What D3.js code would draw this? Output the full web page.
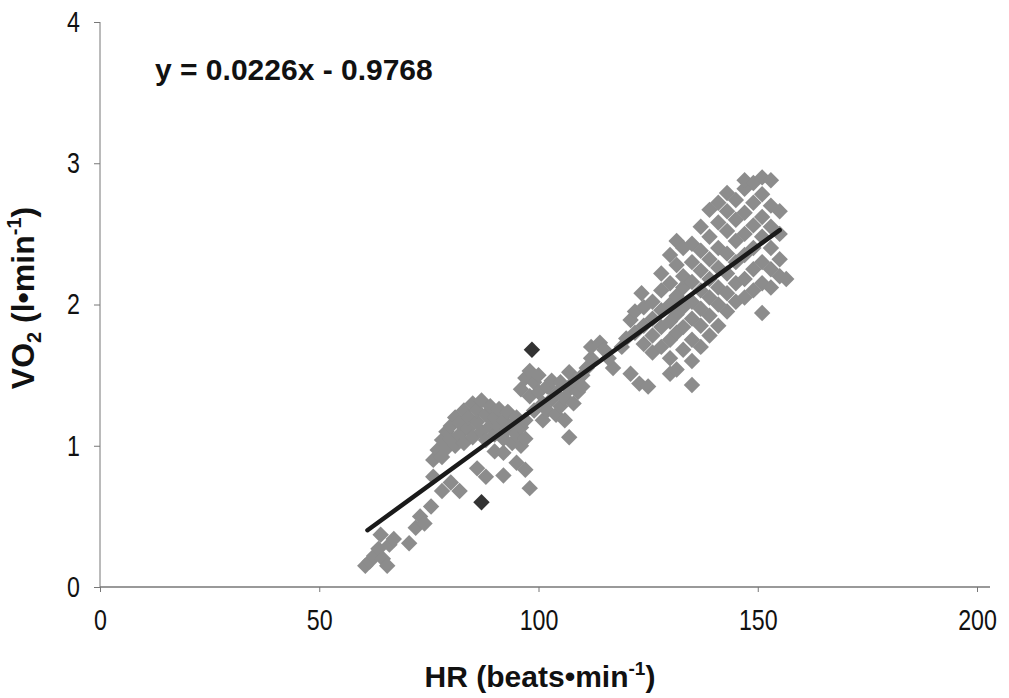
<!DOCTYPE html>
<html>
<head>
<meta charset="utf-8">
<script src="https://cdn.jsdelivr.net/npm/d3@7"></script>
<style>
  body { margin: 0; background: #fff; }
  text { font-family: "Liberation Sans", Arial, sans-serif; }
</style>
</head>
<body>
<div id="chart"></div>
<script>
// constants
const width = 1009
const height = 698
const margin = { left: 100, right: 32, top: 22, bottom: 111 }
const squeeze = 0.8

// data (HR, VO2)
const hrLow = [60.5, 61.5, 62.5, 63.5, 64, 64.5, 65.5, 66, 67, 70.5, 72, 73, 74, 75.5, 76, 78, 80, 82]
const vo2Low = [0.15, 0.18, 0.22, 0.27, 0.37, 0.2, 0.15, 0.3, 0.34, 0.31, 0.42, 0.5, 0.45, 0.57, 0.78, 0.68, 0.74, 0.68]

const hrMid = [76, 77, 78, 78, 79, 79, 80, 80, 81, 81, 82, 82, 83, 83, 84, 84, 85, 85, 86, 86, 87, 87, 88, 88,
  89, 89, 90, 90, 91, 91, 92, 92, 93, 93, 94, 94, 95, 95, 96, 96, 97, 97,
  86, 88, 90, 92, 92, 95, 97, 98]
const vo2Mid = [0.90, 0.97, 0.92, 1.04, 1.10, 0.98, 1.05, 1.14, 1.00, 1.20, 1.08, 1.16, 1.25, 1.02, 1.12, 1.20,
  1.30, 1.06, 1.17, 1.25, 1.32, 1.10, 1.22, 1.04, 1.28, 1.14, 1.20, 1.08, 1.26, 1.13, 1.18, 1.05, 1.24, 1.12,
  1.15, 1.02, 1.20, 1.08, 1.13, 1.00, 1.18, 1.05,
  0.84, 0.78, 0.96, 0.79, 0.95, 0.88, 0.83, 0.70]

const hrUpMid = [96, 97, 98, 98, 99, 99, 100, 100, 101, 101, 102, 102, 103, 103, 104, 104, 105, 105, 106, 106,
  107, 107, 107, 108, 108, 109, 110, 110, 111, 112,
  112, 114, 115, 117, 116, 119, 120, 121, 123, 125, 121, 123.5]
const vo2UpMid = [1.40, 1.48, 1.53, 1.35, 1.45, 1.25, 1.38, 1.50, 1.30, 1.18, 1.42, 1.25, 1.46, 1.33, 1.37, 1.22,
  1.28, 1.45, 1.34, 1.18, 1.06, 1.52, 1.40, 1.30, 1.45, 1.38, 1.50, 1.42, 1.55, 1.62,
  1.70, 1.73, 1.68, 1.55, 1.62, 1.70, 1.76, 1.51, 1.44, 1.42, 1.89, 2.08]

const hrHigh = [122, 122, 124, 124, 124, 126, 126, 126, 126,
  128, 128, 128, 128, 128,
  130, 130, 130, 130, 130, 130, 130,
  131.5, 131.5, 131.5, 131.5, 131.5, 131.5,
  133, 133, 133, 133, 133, 133,
  135, 135, 135, 135, 135, 135, 135, 135,
  137, 137, 137, 137, 137, 137, 137,
  139, 139, 139, 139, 139, 139, 139,
  141, 141, 141, 141, 141, 141, 141,
  143, 143, 143, 143, 143, 143, 143,
  145, 145, 145, 145, 145, 145,
  147, 147, 147, 147, 147, 147, 147,
  149, 149, 149, 149, 149, 149,
  151, 151, 151, 151, 151, 151, 151,
  153, 153, 153, 153, 153, 153,
  155, 155, 155, 155, 156.5]
const vo2High = [1.80, 1.95, 1.72, 1.85, 1.98, 1.78, 1.90, 2.02, 1.66,
  1.70, 1.84, 1.96, 2.10, 2.22,
  1.62, 1.75, 1.88, 2.00, 2.15, 2.35, 1.51,
  1.54, 1.80, 1.93, 2.06, 2.28, 2.45,
  1.68, 1.84, 1.98, 2.12, 2.20, 2.40,
  1.43, 1.60, 1.75, 1.90, 2.02, 2.16, 2.30, 2.43,
  1.70, 1.85, 1.97, 2.10, 2.24, 2.38, 2.55,
  1.78, 1.92, 2.05, 2.18, 2.32, 2.48, 2.67,
  1.85, 2.00, 2.12, 2.26, 2.40, 2.58, 2.72,
  1.95, 2.08, 2.22, 2.36, 2.52, 2.66, 2.79,
  2.02, 2.15, 2.30, 2.45, 2.60, 2.74,
  2.05, 2.18, 2.35, 2.50, 2.65, 2.82, 2.88,
  2.10, 2.25, 2.40, 2.56, 2.72, 2.86,
  1.94, 2.15, 2.30, 2.48, 2.62, 2.78, 2.90,
  2.12, 2.25, 2.40, 2.55, 2.70, 2.88,
  2.20, 2.32, 2.50, 2.66, 2.18]

// a few darker points
const hrDark = [98.5, 87]
const vo2Dark = [1.68, 0.60]

const xTicks = [0, 50, 100, 150, 200]
const yTicks = [0, 1, 2, 3, 4]
const slope = 0.0226
const intercept = -0.9768
const fitRange = [61, 155]

const points = []
;[[hrLow, vo2Low], [hrMid, vo2Mid], [hrUpMid, vo2UpMid], [hrHigh, vo2High]].forEach(([hs, vs]) => {
  hs.forEach((h, i) => points.push({ hr: h, vo2: vs[i], dark: false }))
})
hrDark.forEach((h, i) => points.push({ hr: h, vo2: vo2Dark[i], dark: true }))

// svg
const svg = d3.select("#chart").append("svg").attr("width", width).attr("height", height)

// scales
const x = d3.scaleLinear().domain([0, 200]).range([margin.left, 977])
const y = d3.scaleLinear().domain([0, 4]).range([587, margin.top])

// axes
const xAxis = d3.axisBottom(x).tickValues(xTicks).tickSize(5).tickFormat(d3.format("d"))
const yAxis = d3.axisLeft(y).tickValues(yTicks).tickSize(6).tickFormat(d3.format("d"))

const xAxisGroup = svg.append("g").attr("transform", `translate(0, ${y(0)})`).call(xAxis)
xAxisGroup.select(".domain").remove()
xAxisGroup.append("line").attr("x1", x(0)).attr("x2", 990).attr("y1", 0).attr("y2", 0)
  .attr("stroke", "#777").attr("stroke-width", 1.5)
xAxisGroup.selectAll(".tick line").attr("stroke", "#777")
xAxisGroup.selectAll(".tick text").attr("y", 22).attr("font-size", 29).attr("fill", "#111")
  .attr("transform", `scale(${squeeze},1)`)

const yAxisGroup = svg.append("g").attr("transform", `translate(${x(0)}, 0)`).call(yAxis)
yAxisGroup.select(".domain").attr("stroke", "#777").attr("d", `M0,${y(4)}V${y(0)}`)
yAxisGroup.selectAll(".tick line").attr("stroke", "#777")
yAxisGroup.selectAll(".tick text").attr("x", -20 / squeeze).attr("font-size", 29).attr("fill", "#111")
  .attr("transform", `scale(${squeeze},1)`)

// points
const diamond = d3.symbol().type(d3.symbolSquare).size(135)
svg.append("g").selectAll("path").data(points).join("path")
  .attr("d", diamond)
  .attr("transform", d => `translate(${x(d.hr)}, ${y(d.vo2)}) rotate(45)`)
  .attr("fill", d => d.dark ? "#333" : "#8c8c8c")

// trend line
svg.append("line")
  .attr("x1", x(fitRange[0])).attr("y1", y(slope * fitRange[0] + intercept))
  .attr("x2", x(fitRange[1])).attr("y2", y(slope * fitRange[1] + intercept))
  .attr("stroke", "#1a1a1a").attr("stroke-width", 4.5).attr("stroke-linecap", "round")

// equation
svg.append("text").attr("x", 155).attr("y", 80)
  .attr("font-size", 30).attr("font-weight", "bold").attr("fill", "#111")
  .text(`y = ${slope}x - ${Math.abs(intercept)}`)

// axis titles
const xTitle = svg.append("text").attr("x", 540).attr("y", 687)
  .attr("text-anchor", "middle").attr("font-size", 30).attr("font-weight", "bold").attr("fill", "#111")
xTitle.append("tspan").text("HR (beats•min")
xTitle.append("tspan").attr("dy", -12).attr("font-size", 19).text("-1")
xTitle.append("tspan").attr("dy", 12).text(")")

const yTitle = svg.append("text").attr("transform", "translate(34, 298) rotate(-90)")
  .attr("text-anchor", "middle").attr("font-size", 32).attr("font-weight", "bold").attr("fill", "#111")
yTitle.append("tspan").text("VO")
yTitle.append("tspan").attr("dy", 7).attr("font-size", 20).text("2")
yTitle.append("tspan").attr("dy", -7).text(" (l•min")
yTitle.append("tspan").attr("dy", -13).attr("font-size", 20).text("-1")
yTitle.append("tspan").attr("dy", 13).text(")")
</script>
</body>
</html>
